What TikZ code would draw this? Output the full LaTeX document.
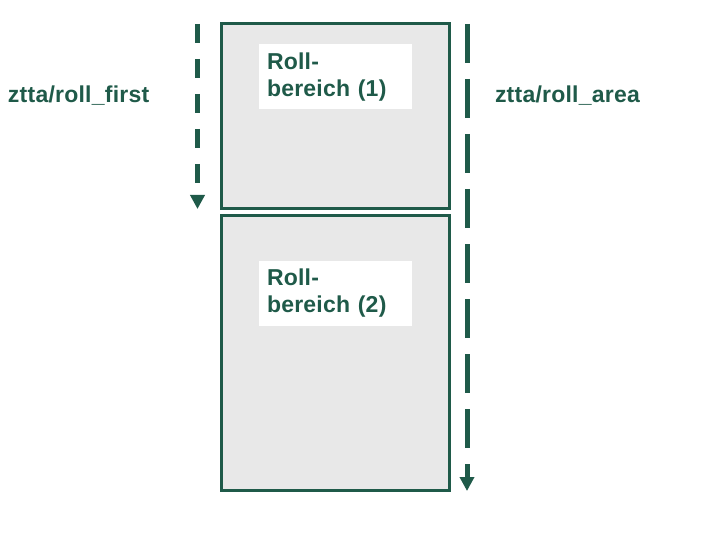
\documentclass[tikz,border=0pt]{standalone}
\usepackage{fontspec}
\setmainfont{Liberation Sans}
\usetikzlibrary{arrows.meta}
\definecolor{rollgreen}{RGB}{31,90,73}
\definecolor{rollgray}{RGB}{232,232,232}
\begin{document}
\begin{tikzpicture}[x=1pt, y=-1pt, line width=3pt,
  area box/.style={draw=rollgreen, fill=rollgray, inner sep=0pt, minimum width=228pt},
  label box/.style={fill=white, inner xsep=8pt, inner ysep=0pt, minimum width=153pt, minimum height=65pt, text width=137pt, align=left, anchor=north west},
  roll text/.style={text=rollgreen, font=\fontsize{23}{27.7}\selectfont\bfseries\addfontfeature{LetterSpace=1}},
  dash arrow/.style={draw=rollgreen, line width=5pt, -{Triangle[width=14pt,length=14pt]}}]
\path[fill=white, use as bounding box] (0,0) rectangle (720,540);
\node[area box, minimum height=185pt] (area1) at (335.5,116) {};
\node[area box, minimum height=275pt] (area2) at (335.5,353) {};
\begin{scope}[every node/.style={roll text}]
\node[label box] (lbl1) at (257.5,43) {Roll-\\bereich (1)};
\node[label box] (lbl2) at (257.5,259) {Roll-\\bereich (2)};
\node[anchor=base west, inner sep=0pt] (first) at (6.5,102.7) {ztta/roll\_first};
\node[anchor=base west, inner sep=0pt] (rollarea) at (493.5,103) {ztta/roll\_area};
\end{scope}
\coordinate (first top) at (197.5,24);
\coordinate (first end) at (197.5,209);
\coordinate (area top) at (467,24);
\coordinate (area end) at (467,491);
\draw[dash arrow, dash pattern=on 19.5pt off 15.5pt] (first top) -- (first end);
\draw[dash arrow, dash pattern=on 39pt off 16pt] (area top) -- (area end);
\end{tikzpicture}
\end{document}
